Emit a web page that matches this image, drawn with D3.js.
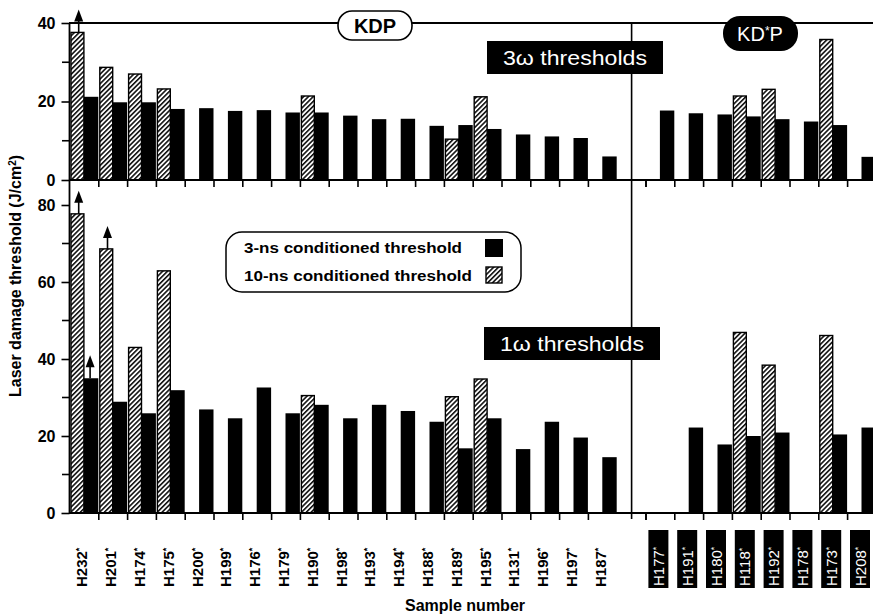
<!DOCTYPE html>
<html>
<head>
<meta charset="utf-8">
<script src="https://cdn.jsdelivr.net/npm/d3@7"></script>
<style>
  body { margin: 0; background: #fff; }
  svg { display: block; }
  text { font-family: "Liberation Sans", Arial, Helvetica, sans-serif; font-weight: bold; }
</style>
</head>
<body>
<svg id="chart" width="873" height="615"></svg>
<script>
// samples, left = KDP, right = KD*P
const kdpSamples = ["H232", "H201", "H174", "H175", "H200", "H199", "H176", "H179", "H190", "H198",
  "H193", "H194", "H188", "H189", "H195", "H131", "H196", "H197", "H187"];
const kdsSamples = ["H177", "H191", "H180", "H118", "H192", "H178", "H173", "H208"];

// 3w thresholds (J/cm2)
const kdp3w3ns = [21.2, 19.8, 19.8, 18.1, 18.3, 17.6, 17.8, 17.2, 17.2, 16.4, 15.5, 15.6, 13.8, 14.0, 13.0, 11.6, 11.1, 10.7, 6.0];
const kdp3w10ns = [37.6, 28.7, 27.0, 23.2, null, null, null, null, 21.4, null, null, null, null, 10.4, 21.2, null, null, null, null];
const kds3w3ns = [17.7, 17.0, 16.7, 16.2, 15.5, 14.9, 14.0, 5.9];
const kds3w10ns = [null, null, null, 21.4, 23.1, null, 35.8, null];

// 1w thresholds (J/cm2)
const kdp1w3ns = [35.0, 28.9, 25.9, 31.9, 26.9, 24.6, 32.6, 25.9, 28.1, 24.6, 28.1, 26.5, 23.7, 16.8, 24.6, 16.6, 23.7, 19.6, 14.5];
const kdp1w10ns = [77.7, 68.6, 43.0, 62.9, null, null, null, null, 30.5, null, null, null, null, 30.2, 34.8, null, null, null, null];
const kds1w3ns = [null, 22.2, 17.8, 20.0, 20.9, null, 20.4, 22.2];
const kds1w10ns = [null, null, null, 46.9, 38.4, null, 46.1, null];

// values that are lower bounds (drawn with an up arrow)
const arrows = [
  { panel: "3w", sample: "H232", series: "10ns" },
  { panel: "1w", sample: "H232", series: "10ns" },
  { panel: "1w", sample: "H232", series: "3ns" },
  { panel: "1w", sample: "H201", series: "10ns" }
];

const yTicks3w = [0, 20, 40];
const yTicks1w = [0, 20, 40, 60, 80];

const svg = d3.select("#chart");
const W = 873;

const slots = [...kdpSamples, "gap", ...kdsSamples];
const x = d3.scaleBand().domain(slots).range([70, 876.4]).padding(0);
const bw = x.bandwidth();

const y3 = d3.scaleLinear().domain([0, 40]).range([180, 23]);
const y1 = d3.scaleLinear().domain([0, 80]).range([513, 205]);

// hatch pattern
const defs = svg.append("defs");
const pat = defs.append("pattern")
  .attr("id", "hatch")
  .attr("patternUnits", "userSpaceOnUse")
  .attr("width", 3.4).attr("height", 3.4)
  .attr("patternTransform", "rotate(45)");
pat.append("rect").attr("width", 3.4).attr("height", 3.4).attr("fill", "#fff");
pat.append("line").attr("x1", 0.8).attr("y1", 0).attr("x2", 0.8).attr("y2", 3.4)
  .attr("stroke", "#000").attr("stroke-width", 1.5);

function rows(names, a3, a10) {
  return names.map((s, i) => ({ sample: s, v3: a3[i], v10: a10[i] }));
}
const panels = [
  { id: "3w", y: y3, data: rows(kdpSamples, kdp3w3ns, kdp3w10ns).concat(rows(kdsSamples, kds3w3ns, kds3w10ns)), ticks: yTicks3w, minor: [10, 30] },
  { id: "1w", y: y1, data: rows(kdpSamples, kdp1w3ns, kdp1w10ns).concat(rows(kdsSamples, kds1w3ns, kds1w10ns)), ticks: yTicks1w, minor: [10, 30, 50, 70] }
];

panels.forEach(p => {
  const g = svg.append("g").attr("class", "panel-" + p.id);
  const base = p.y(0);

  // hatched (10-ns)
  g.selectAll("rect.h10")
    .data(p.data.filter(d => d.v10 != null))
    .join("rect")
    .attr("class", "h10")
    .attr("x", d => x(d.sample) + 1)
    .attr("y", d => p.y(d.v10))
    .attr("width", bw / 2 - 1.5)
    .attr("height", d => base - p.y(d.v10))
    .attr("fill", "url(#hatch)")
    .attr("stroke", "#000")
    .attr("stroke-width", 1.4);

  // solid (3-ns)
  g.selectAll("rect.h3")
    .data(p.data.filter(d => d.v3 != null))
    .join("rect")
    .attr("class", "h3")
    .attr("x", d => x(d.sample) + bw / 2 - 0.5)
    .attr("y", d => p.y(d.v3))
    .attr("width", bw / 2)
    .attr("height", d => base - p.y(d.v3))
    .attr("fill", "#000");

  // x axis with ticks pointing down
  g.append("line")
    .attr("x1", 69).attr("x2", W).attr("y1", base).attr("y2", base)
    .attr("stroke", "#000").attr("stroke-width", 1.8);
  g.selectAll("line.xt")
    .data(slots.map(s => x(s)).filter((v, i) => i > 0 && slots[i] !== "gap").concat([x(kdsSamples[0])]))
    .join("line")
    .attr("class", "xt")
    .attr("x1", d => d).attr("x2", d => d)
    .attr("y1", base).attr("y2", base + 7)
    .attr("stroke", "#000").attr("stroke-width", 1.6);

  // y axis ticks + labels
  const yAxis = d3.axisLeft(p.y).tickValues(p.ticks).tickSize(8).tickPadding(6);
  const ya = g.append("g").attr("transform", "translate(69.5,0)").call(yAxis);
  ya.select(".domain").remove();
  ya.selectAll(".tick line").attr("stroke-width", 1.6);
  ya.selectAll(".tick text")
    .style("font-size", "16px").attr("fill", "#000");
  g.selectAll("line.ym")
    .data(p.minor)
    .join("line")
    .attr("class", "ym")
    .attr("x1", 62).attr("x2", 69.5)
    .attr("y1", d => p.y(d)).attr("y2", d => p.y(d))
    .attr("stroke", "#000").attr("stroke-width", 1.6);

  // lower-bound arrows
  arrows.filter(a => a.panel === p.id).forEach(a => {
    const d = p.data.find(r => r.sample === a.sample);
    const v = a.series === "10ns" ? d.v10 : d.v3;
    const cx = x(a.sample) + (a.series === "10ns" ? bw / 4 + 1.5 : bw * 3 / 4 - 1.5);
    const top = p.y(v);
    const tip = top - 23;
    g.append("line")
      .attr("x1", cx).attr("x2", cx).attr("y1", top).attr("y2", tip + 8)
      .attr("stroke", "#000").attr("stroke-width", 1.6);
    g.append("path")
      .attr("d", `M${cx},${tip} L${cx - 4.5},${tip + 12} L${cx + 4.5},${tip + 12} Z`)
      .attr("fill", "#000");
  });
});

// frame: top line, y axis line, divider
svg.append("line").attr("x1", 69).attr("x2", W).attr("y1", 23).attr("y2", 23)
  .attr("stroke", "#000").attr("stroke-width", 1.8);
svg.append("line").attr("x1", 69.5).attr("x2", 69.5).attr("y1", 23).attr("y2", 514)
  .attr("stroke", "#000").attr("stroke-width", 1.8);
const divX = x("gap") + bw / 2;
svg.append("line").attr("x1", divX).attr("x2", divX).attr("y1", 23).attr("y2", 519)
  .attr("stroke", "#000").attr("stroke-width", 1.6);

// sample labels
svg.selectAll("text.kdp")
  .data(kdpSamples)
  .join("text")
  .attr("class", "kdp")
  .attr("transform", d => `translate(${x(d) + bw / 2 + 3},587) rotate(-90)`)
  .style("font-size", "15px")
  .attr("fill", "#000")
  .text(d => d)
  .append("tspan").attr("dy", -5).style("font-size", "9px").text("*");

const kdsLab = svg.selectAll("g.kds")
  .data(kdsSamples)
  .join("g")
  .attr("class", "kds")
  .attr("transform", d => `translate(${x(d) + bw / 2 - 2},0)`);
kdsLab.append("rect")
  .attr("x", -10).attr("y", 530).attr("width", 20).attr("height", 58)
  .attr("fill", "#000");
kdsLab.append("text")
  .attr("transform", "translate(5.5,586) rotate(-90)")
  .style("font-size", "15px").style("font-weight", "normal")
  .attr("fill", "#fff")
  .text(d => d)
  .append("tspan").attr("dy", -5).style("font-size", "9px").text("*");

// crystal tags
svg.append("rect").attr("x", 338).attr("y", 11).attr("width", 74).attr("height", 29).attr("rx", 14)
  .attr("fill", "#fff").attr("stroke", "#000").attr("stroke-width", 1.6);
svg.append("text").attr("x", 375).attr("y", 33).attr("text-anchor", "middle")
  .style("font-size", "20px").text("KDP");
svg.append("rect").attr("x", 723).attr("y", 16).attr("width", 75).attr("height", 35).attr("rx", 17)
  .attr("fill", "#000");
const kdsT = svg.append("text").attr("x", 760).attr("y", 41).attr("text-anchor", "middle")
  .attr("fill", "#fff").style("font-size", "20px").style("font-weight", "normal");
kdsT.append("tspan").text("KD");
kdsT.append("tspan").attr("dy", -6).style("font-size", "12px").text("*");
kdsT.append("tspan").attr("dy", 6).text("P");

// panel titles
[{ t: "3\u03c9 thresholds", x: 487, y: 41 }, { t: "1\u03c9 thresholds", x: 484, y: 327 }].forEach(b => {
  svg.append("rect").attr("x", b.x).attr("y", b.y).attr("width", 176).attr("height", 33).attr("fill", "#000");
  svg.append("text").attr("x", b.x + 16).attr("y", b.y + 24)
    .attr("textLength", 144).attr("lengthAdjust", "spacingAndGlyphs")
    .attr("fill", "#fff").style("font-size", "21px").style("font-weight", "normal").text(b.t);
});

// legend
const leg = svg.append("g");
leg.append("rect").attr("x", 226).attr("y", 232).attr("width", 295).attr("height", 60).attr("rx", 16)
  .attr("fill", "#fff").attr("stroke", "#000").attr("stroke-width", 1.5);
leg.append("text").attr("x", 244).attr("y", 253).style("font-size", "15px")
  .attr("textLength", 218).attr("lengthAdjust", "spacingAndGlyphs").text("3-ns conditioned threshold");
leg.append("text").attr("x", 244).attr("y", 281).style("font-size", "15px")
  .attr("textLength", 228).attr("lengthAdjust", "spacingAndGlyphs").text("10-ns conditioned threshold");
leg.append("rect").attr("x", 485).attr("y", 239).attr("width", 18).attr("height", 18).attr("fill", "#000");
leg.append("rect").attr("x", 486).attr("y", 267).attr("width", 16).attr("height", 16)
  .attr("fill", "url(#hatch)").attr("stroke", "#000").attr("stroke-width", 1.4);

// axis titles
const yt = svg.append("text").attr("transform", "translate(21,276) rotate(-90)")
  .attr("text-anchor", "middle").style("font-size", "16px");
yt.append("tspan").text("Laser damage threshold  (J/cm");
yt.append("tspan").attr("dy", -5).style("font-size", "10px").text("2");
yt.append("tspan").attr("dy", 5).text(")");

svg.append("text").attr("x", 465).attr("y", 611).attr("text-anchor", "middle")
  .style("font-size", "16px").text("Sample number");
</script>
</body>
</html>
